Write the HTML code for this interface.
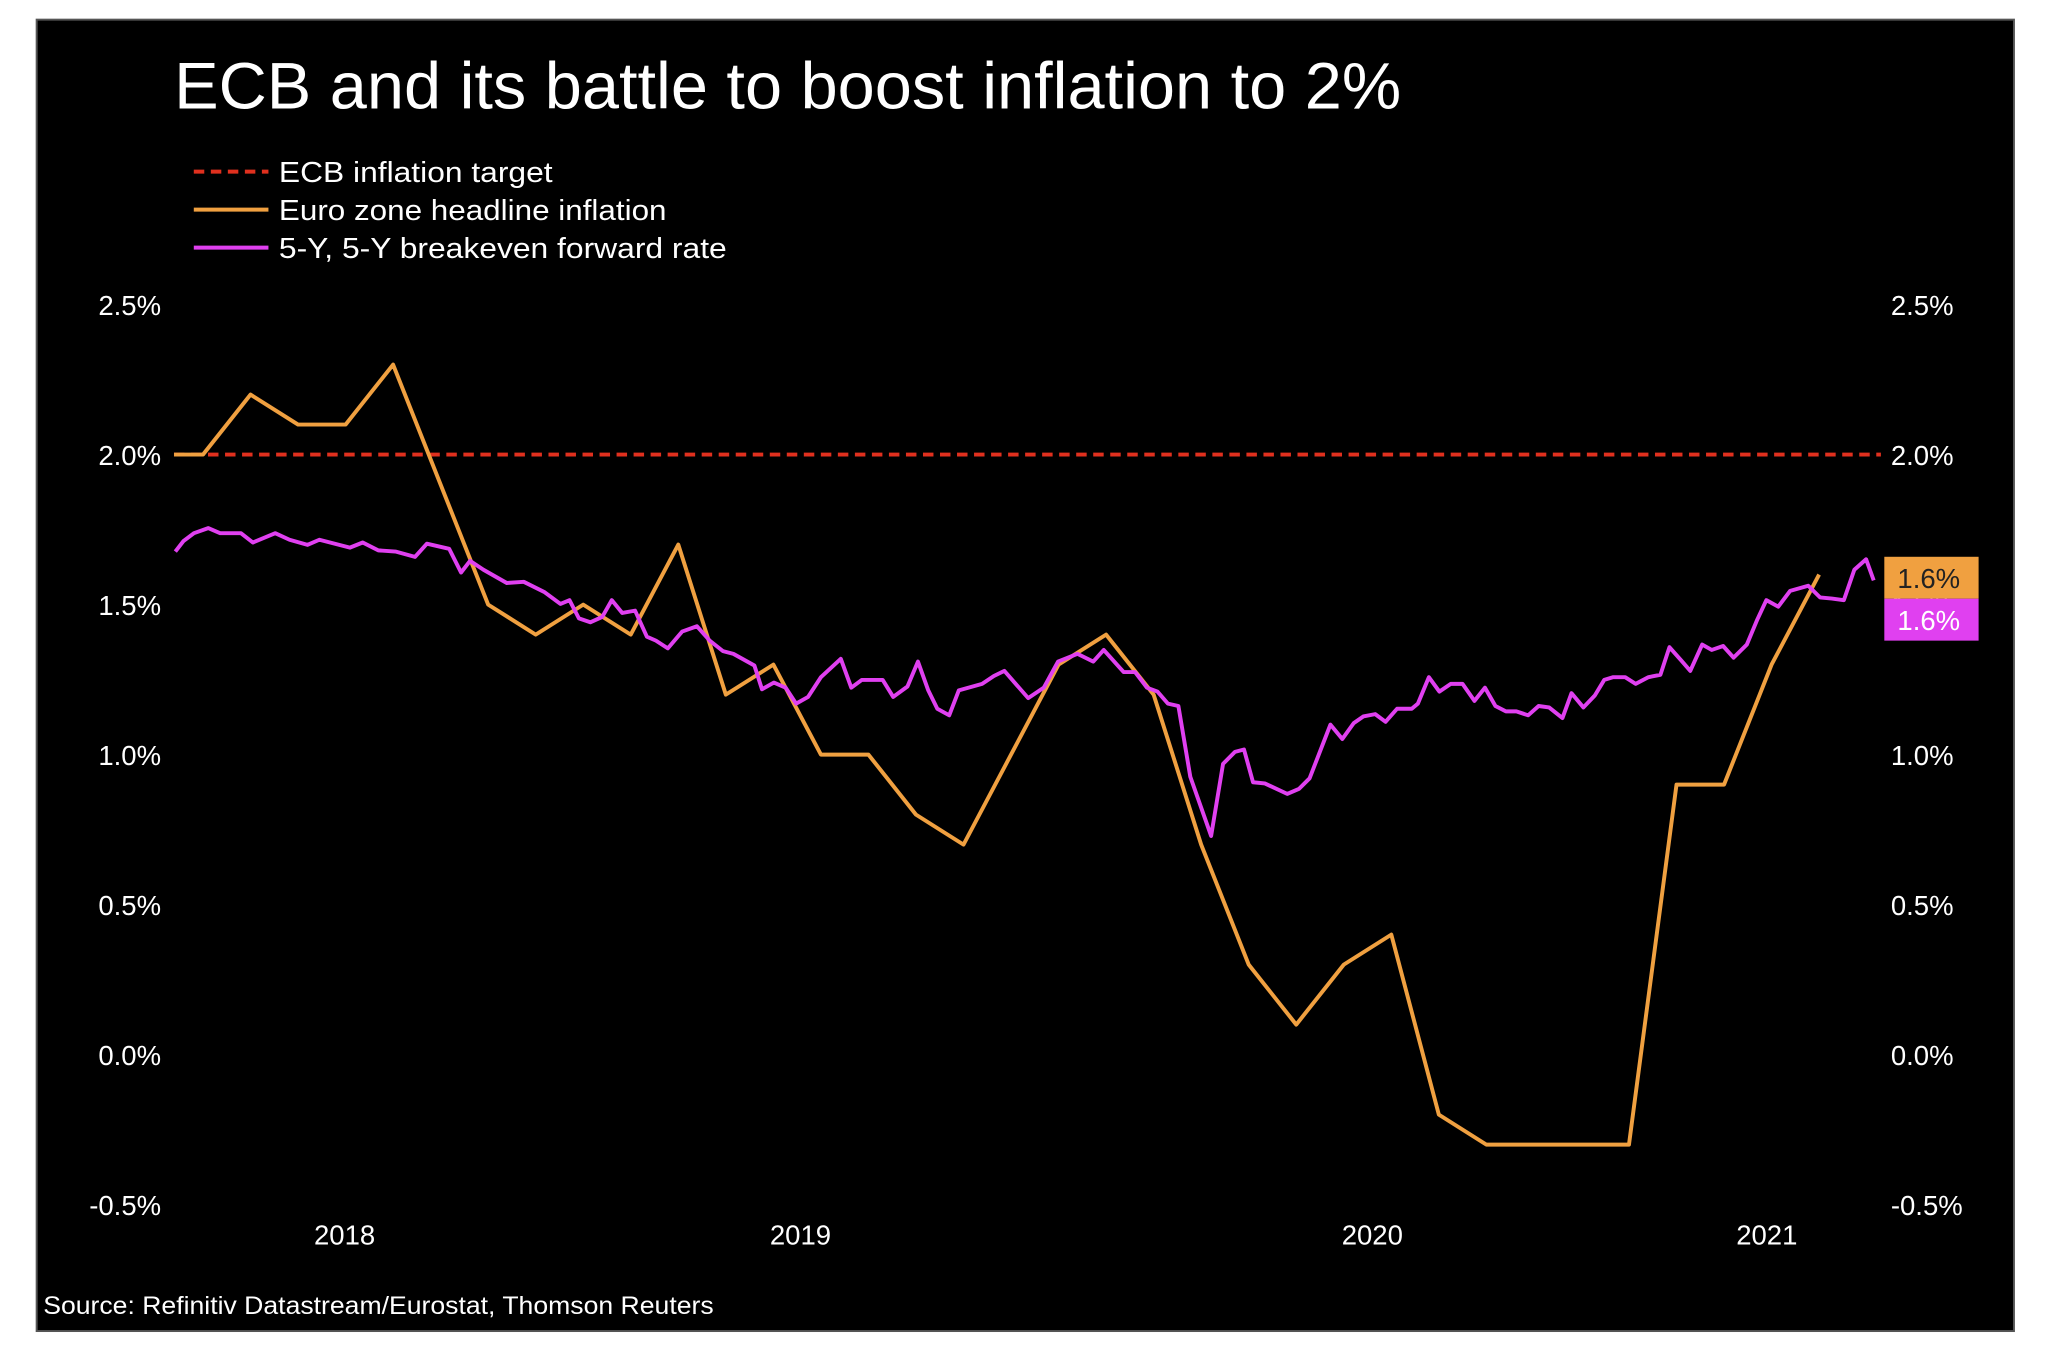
<!DOCTYPE html>
<html><head><meta charset="utf-8"><style>
html,body{margin:0;padding:0;background:#fff;}
svg{display:block;}
text{font-family:"Liberation Sans",sans-serif;}
</style></head><body>
<svg id="chart" width="2048" height="1352" viewBox="0 0 1564 1032" preserveAspectRatio="none" xmlns="http://www.w3.org/2000/svg">
<rect x="28" y="15" width="1510" height="1001" fill="#000" stroke="#555" stroke-width="1.5"/>
<text x="133" y="83" font-size="50" fill="#fff" textLength="937" lengthAdjust="spacingAndGlyphs">ECB and its battle to boost inflation to 2%</text>
<g>
<line x1="148" y1="131" x2="205" y2="131" stroke="#e0301e" stroke-width="3" stroke-dasharray="8,5"/>
<text x="213" y="139" font-size="22" fill="#fff" textLength="209" lengthAdjust="spacingAndGlyphs">ECB inflation target</text>
<line x1="148" y1="160" x2="205" y2="160" stroke="#f0a040" stroke-width="3"/>
<text x="213" y="168" font-size="22" fill="#fff" textLength="296" lengthAdjust="spacingAndGlyphs">Euro zone headline inflation</text>
<line x1="148" y1="189" x2="205" y2="189" stroke="#e040f0" stroke-width="3"/>
<text x="213" y="197" font-size="22" fill="#fff" textLength="342" lengthAdjust="spacingAndGlyphs">5-Y, 5-Y breakeven forward rate</text>
</g>
<g id="axes"></g>
<g id="series"></g>
<g>
<rect x="1439" y="425" width="72" height="32" fill="#f0a040"/>
<text x="1449" y="449" font-size="21" fill="#222">1.6%</text>
<rect x="1439" y="457" width="72" height="32" fill="#e040f0"/>
<text x="1449" y="481" font-size="21" fill="#fff">1.6%</text>
</g>
<text x="33" y="1003" font-size="19" fill="#fff" textLength="512" lengthAdjust="spacingAndGlyphs">Source: Refinitiv Datastream/Eurostat, Thomson Reuters</text>
</svg>
<script>
// months since Jun 2018
const yTicks = [2.5, 2.0, 1.5, 1.0, 0.5, 0.0, -0.5];
const yTickLabels = ["2.5%", "2.0%", "1.5%", "1.0%", "0.5%", "0.0%", "-0.5%"];
const xTickMonths = [2.98, 12.57, 24.6, 32.9];
const xTickLabels = ["2018", "2019", "2020", "2021"];
const targetValue = 2.0;
const targetRange = [-0.61, 35.3];
const inflationMonths = [-0.61,0,1,2,3,4,5,6,7,8,9,10,11,12,13,14,15,16,17,18,19,20,21,22,23,24,25,26,27,28,29,30,31,32,33,34];
const inflationValues = [2.0,2.0,2.2,2.1,2.1,2.3,1.9,1.5,1.4,1.5,1.4,1.7,1.2,1.3,1.0,1.0,0.8,0.7,1.0,1.3,1.4,1.2,0.7,0.3,0.1,0.3,0.4,-0.2,-0.3,-0.3,-0.3,-0.3,0.9,0.9,1.3,1.6];
const breakevenMonths = [-0.58,-0.41,-0.19,0.11,0.36,0.80,1.05,1.52,1.82,2.20,2.45,3.09,3.36,3.69,4.05,4.46,4.71,5.18,5.43,5.62,5.90,6.39,6.75,7.19,7.52,7.71,7.91,8.15,8.40,8.60,8.82,9.09,9.34,9.53,9.78,10.08,10.39,10.66,10.94,11.16,11.60,11.76,12.01,12.26,12.48,12.73,13.00,13.42,13.64,13.86,14.30,14.52,14.82,15.04,15.26,15.45,15.70,15.90,16.39,16.64,16.86,17.36,17.69,17.99,18.40,18.73,18.95,19.37,19.61,19.86,20.08,20.30,20.52,20.77,21.21,21.46,21.71,21.90,22.09,22.34,22.81,23.06,23.28,23.72,23.97,24.21,24.41,24.66,24.88,25.12,25.43,25.56,25.79,26.01,26.25,26.50,26.75,26.97,27.19,27.41,27.63,27.88,28.10,28.32,28.60,28.79,29.04,29.28,29.48,29.67,29.92,30.14,30.41,30.66,30.85,31.10,31.29,31.54,31.74,31.98,32.20,32.48,32.70,32.89,33.14,33.39,33.77,34.02,34.27,34.52,34.74,34.99,35.15];
const breakevenValues = [1.677,1.712,1.738,1.755,1.738,1.738,1.707,1.738,1.716,1.699,1.716,1.690,1.707,1.681,1.677,1.659,1.703,1.686,1.607,1.646,1.616,1.572,1.576,1.541,1.502,1.515,1.454,1.441,1.459,1.515,1.472,1.480,1.393,1.380,1.354,1.410,1.428,1.380,1.345,1.336,1.297,1.218,1.240,1.223,1.170,1.192,1.258,1.319,1.223,1.249,1.249,1.192,1.227,1.310,1.214,1.153,1.131,1.214,1.236,1.262,1.279,1.188,1.223,1.310,1.336,1.310,1.349,1.275,1.275,1.223,1.210,1.170,1.162,0.926,0.729,0.969,1.009,1.017,0.908,0.904,0.869,0.886,0.921,1.100,1.052,1.105,1.127,1.135,1.109,1.153,1.153,1.170,1.258,1.210,1.236,1.236,1.179,1.223,1.162,1.144,1.144,1.131,1.162,1.157,1.122,1.205,1.157,1.197,1.249,1.258,1.258,1.236,1.258,1.266,1.358,1.314,1.279,1.367,1.349,1.362,1.323,1.367,1.450,1.515,1.493,1.546,1.563,1.524,1.520,1.515,1.616,1.651,1.581];

const NS = "http://www.w3.org/2000/svg";
function xScale(m){ return 155 + m * 36.3; }
function yScale(v){ return 805 - v * 229; }
function mk(tag, attrs, parent){
  const el = document.createElementNS(NS, tag);
  for (const k in attrs) el.setAttribute(k, attrs[k]);
  parent.appendChild(el);
  return el;
}
const axes = document.getElementById('axes');
const series = document.getElementById('series');

yTicks.forEach((v, i) => {
  const l = mk('text', {x: 123, y: yScale(v) + 8, 'font-size': 21, fill: '#fff', 'text-anchor': 'end'}, axes);
  
  
  l.textContent = yTickLabels[i];
  const r = mk('text', {x: 1444, y: yScale(v) + 8, 'font-size': 21, fill: '#fff'}, axes);
  
  
  r.textContent = yTickLabels[i];
});
xTickMonths.forEach((m, i) => {
  const t = mk('text', {x: xScale(m), y: 950, 'font-size': 21, fill: '#fff', 'text-anchor': 'middle'}, axes);
  
  
  t.textContent = xTickLabels[i];
});

const tgt = mk('line', {x1: xScale(targetRange[0]), x2: xScale(targetRange[1]), y1: yScale(targetValue), y2: yScale(targetValue), stroke: '#e0301e', 'stroke-width': 3, 'stroke-dasharray': '8,5'}, series);



function pts(ms, vs){ return ms.map((m, i) => xScale(m).toFixed(1) + ',' + yScale(vs[i]).toFixed(1)).join(' '); }
const inf = mk('polyline', {points: pts(inflationMonths, inflationValues), fill: 'none', stroke: '#f0a040', 'stroke-width': 3, 'stroke-linejoin': 'round'}, series);


const be = mk('polyline', {points: pts(breakevenMonths, breakevenValues), fill: 'none', stroke: '#e040f0', 'stroke-width': 3, 'stroke-linejoin': 'round'}, series);


</script>
</body></html>
